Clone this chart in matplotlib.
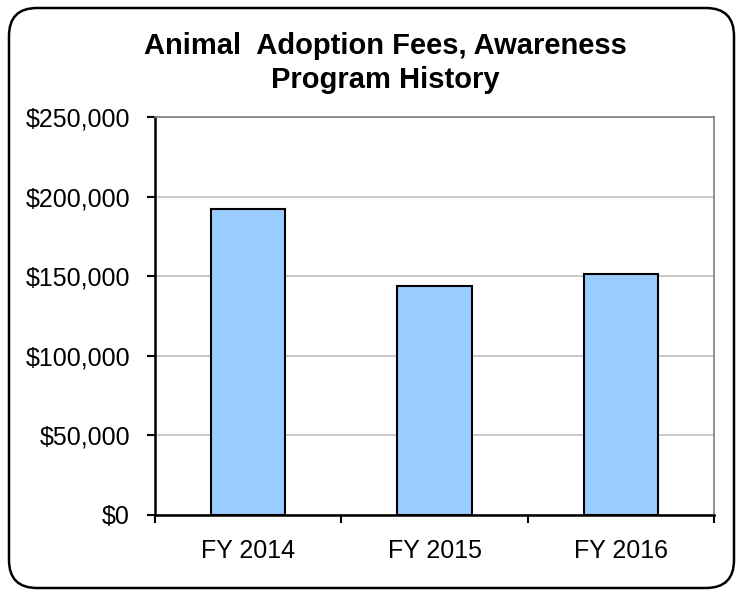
import numpy as np
import matplotlib.pyplot as plt
import matplotlib.patches as mpatches
from matplotlib.ticker import FuncFormatter, FixedLocator

plt.rcParams['font.family'] = ['Liberation Sans', 'DejaVu Sans']

# data
years = ['FY 2014', 'FY 2015', 'FY 2016']
fees = [192500, 144000, 151500]

fig = plt.figure(figsize=(7.38, 5.92), dpi=100)

# rounded chart-area border
frame = mpatches.FancyBboxPatch((0.09, 0.04), 7.25, 5.80,
                                boxstyle='round,pad=0,rounding_size=0.28',
                                transform=fig.dpi_scale_trans,
                                facecolor='none', edgecolor='black',
                                linewidth=1.8, zorder=5)
fig.patches.append(frame)

ax = fig.add_axes([155 / 738, 1 - 515 / 592, (714 - 155) / 738, (515 - 117) / 592])

x = np.arange(len(years))
ax.bar(x, fees, width=0.4, color='#99CCFF', edgecolor='black', linewidth=1.5, zorder=3)

ax.set_xlim(-0.5, len(years) - 0.5)
ax.set_ylim(0, 250000)
ax.set_yticks(np.arange(0, 250001, 50000))
ax.yaxis.set_major_formatter(FuncFormatter(lambda v, p: f'${v:,.0f}'))
ax.grid(axis='y', color='#C0C0C0', linewidth=1.2, zorder=0)
ax.set_axisbelow(True)

# category labels centred, tick marks at category boundaries
ax.set_xticks(x)
ax.set_xticklabels(years)
ax.xaxis.set_minor_locator(FixedLocator(np.arange(-0.5, len(years), 1.0)))
ax.tick_params(axis='x', which='major', length=0, pad=17, labelsize=18)
ax.tick_params(axis='x', which='minor', length=6, width=1.5, color='black', direction='out')
ax.tick_params(axis='y', length=6, width=1.5, pad=12, labelsize=18, direction='out')

for side in ['top', 'right']:
    ax.spines[side].set_color('#808080')
    ax.spines[side].set_linewidth(1.2)
for side in ['left', 'bottom']:
    ax.spines[side].set_color('black')
    ax.spines[side].set_linewidth(1.8)

fig.text(0.522, 1 - 63 / 592, 'Animal  Adoption Fees, Awareness\nProgram History',
         ha='center', va='center', fontsize=21, fontweight='bold', linespacing=1.3)

fig.savefig('out.png', dpi=100)
